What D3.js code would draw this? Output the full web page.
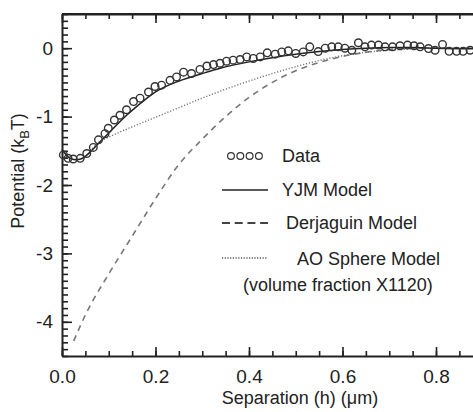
<!DOCTYPE html>
<html>
<head>
<meta charset="utf-8">
<script src="https://cdn.jsdelivr.net/npm/d3@7"></script>
<style>
  body { margin: 0; background: #fff; }
  svg { display: block; }
  text { font-family: "Liberation Sans", Arial, sans-serif; fill: #222; }
</style>
</head>
<body>
<svg></svg>
<script>
// separation (um) and potential (kT)
const dataH = [0.003, 0.013, 0.024, 0.039, 0.053, 0.067, 0.078, 0.092, 0.099, 0.112,
  0.124, 0.138, 0.153, 0.167, 0.185, 0.199, 0.213, 0.231, 0.245, 0.26,
  0.277, 0.295, 0.31, 0.324, 0.338, 0.352, 0.366, 0.381, 0.395, 0.409,
  0.424, 0.439, 0.456, 0.47, 0.484, 0.5, 0.516, 0.53, 0.548, 0.563,
  0.577, 0.591, 0.605, 0.62, 0.634, 0.648, 0.662, 0.677, 0.691, 0.707,
  0.723, 0.739, 0.753, 0.766, 0.784, 0.798, 0.814, 0.828, 0.844, 0.858, 0.873];
const dataU = [-1.56, -1.61, -1.62, -1.61, -1.54, -1.45, -1.34, -1.25, -1.17, -1.05,
  -0.98, -0.90, -0.78, -0.73, -0.64, -0.56, -0.54, -0.47, -0.42, -0.35,
  -0.37, -0.31, -0.26, -0.24, -0.22, -0.19, -0.175, -0.165, -0.127, -0.15,
  -0.127, -0.068, -0.087, -0.054, -0.039, -0.077, -0.054, 0.02, -0.05, 0.0,
  0.02, 0.02, 0.0, -0.03, 0.08, 0.02, 0.045, 0.045, 0.02, 0.02,
  0.035, 0.045, 0.035, 0.02, -0.005, -0.03, 0.055, -0.045, -0.045, -0.045, -0.03];

const yjmH = [0, 0.01, 0.02, 0.03, 0.04, 0.05, 0.06, 0.08, 0.1, 0.12, 0.14, 0.16, 0.18, 0.2,
  0.25, 0.3, 0.34, 0.4, 0.45, 0.5, 0.55, 0.6, 0.65, 0.7, 0.75, 0.8, 0.9];
const yjmU = [-1.48, -1.57, -1.62, -1.63, -1.62, -1.58, -1.52, -1.38, -1.24, -1.1, -0.97, -0.85, -0.74, -0.64,
  -0.48, -0.37, -0.29, -0.2, -0.14, -0.09, -0.05, -0.02, 0, 0.01, 0.01, 0, -0.01];

const derjH = [0.025, 0.05, 0.1, 0.15, 0.2, 0.25, 0.3, 0.35, 0.4, 0.45, 0.5, 0.55, 0.6, 0.65, 0.7, 0.75, 0.9];
const derjU = [-4.28, -3.9, -3.3, -2.75, -2.2, -1.7, -1.33, -1.0, -0.72, -0.5, -0.33, -0.21, -0.12, -0.06, -0.02, 0, 0];

const aoH = [0.06, 0.08, 0.1, 0.15, 0.2, 0.25, 0.3, 0.35, 0.4, 0.45, 0.5, 0.55, 0.6, 0.65, 0.7, 0.75, 0.8, 0.9];
const aoU = [-1.5, -1.37, -1.3, -1.15, -1.01, -0.87, -0.73, -0.6, -0.48, -0.37, -0.27, -0.18, -0.11, -0.06, -0.03, -0.01, 0, 0];

const xTicks = [0, 0.2, 0.4, 0.6, 0.8];
const xTickLabels = ['0.0', '0.2', '0.4', '0.6', '0.8'];
const yTicks = [0, -1, -2, -3, -4];
const yTickLabels = ['0', '-1', '-2', '-3', '-4'];

const legendItems = ['Data', 'YJM Model', 'Derjaguin Model', 'AO Sphere Model'];

const width = 473, height = 412;
const margin = {top: 14, left: 62, bottom: 56};

const svg = d3.select('svg')
  .attr('width', width)
  .attr('height', height);

const x = d3.scaleLinear().domain([0, 1]).range([margin.left, margin.left + 467.5]);
const y = d3.scaleLinear().domain([-4.5, 0.5]).range([height - margin.bottom, margin.top]);

const minorX = d3.range(0, 1.001, 0.05);
const minorY = d3.range(-4.5, 0.501, 0.1);

// minor ticks first
svg.append('g')
  .attr('transform', `translate(0,${y(-4.5)})`)
  .call(d3.axisBottom(x).tickValues(minorX).tickSize(-5).tickSizeOuter(0).tickFormat(''))
  .call(g => g.select('.domain').remove());
svg.append('g')
  .attr('transform', `translate(0,${y(0.5)})`)
  .call(d3.axisTop(x).tickValues(minorX).tickSize(-5).tickSizeOuter(0).tickFormat(''))
  .call(g => g.select('.domain').remove());
svg.append('g')
  .attr('transform', `translate(${x(0)},0)`)
  .call(d3.axisLeft(y).tickValues(minorY).tickSize(-6).tickSizeOuter(0).tickFormat(''))
  .call(g => g.select('.domain').remove());

// major ticks with labels
svg.append('g')
  .attr('transform', `translate(0,${y(-4.5)})`)
  .call(d3.axisBottom(x).tickValues(xTicks).tickSize(-9).tickSizeOuter(0).tickPadding(14)
    .tickFormat((d, i) => xTickLabels[i]));
svg.append('g')
  .attr('transform', `translate(0,${y(0.5)})`)
  .call(d3.axisTop(x).tickValues(xTicks).tickSize(-9).tickSizeOuter(0).tickFormat(''));
svg.append('g')
  .attr('transform', `translate(${x(0)},0)`)
  .call(d3.axisLeft(y).tickValues(yTicks).tickSize(-10).tickSizeOuter(0).tickPadding(9)
    .tickFormat((d, i) => yTickLabels[i]));

svg.selectAll('.tick line').attr('stroke', '#222').attr('stroke-width', 1.6);
svg.selectAll('.domain').attr('stroke', '#222').attr('stroke-width', 2);
svg.selectAll('.tick text')
  .attr('fill', '#222')
  .style('font-size', '19px')
  .style('font-family', '"Liberation Sans", Arial, sans-serif');

// frame top
svg.append('line')
  .attr('x1', x(0)).attr('x2', x(1))
  .attr('y1', y(0.5)).attr('y2', y(0.5))
  .attr('stroke', '#222').attr('stroke-width', 2);

const line = d3.line()
  .x(d => x(d[0]))
  .y(d => y(d[1]))
  .curve(d3.curveMonotoneX);

svg.append('path')
  .datum(derjH.map((h, i) => [h, derjU[i]]))
  .attr('d', line)
  .attr('fill', 'none')
  .attr('stroke', '#777')
  .attr('stroke-width', 1.6)
  .attr('stroke-dasharray', '6,5');

svg.append('path')
  .datum(aoH.map((h, i) => [h, aoU[i]]))
  .attr('d', line)
  .attr('fill', 'none')
  .attr('stroke', '#777')
  .attr('stroke-width', 1.4)
  .attr('stroke-dasharray', '1.2,1.8');

svg.append('path')
  .datum(yjmH.map((h, i) => [h, yjmU[i]]))
  .attr('d', line)
  .attr('fill', 'none')
  .attr('stroke', '#222')
  .attr('stroke-width', 1.5);

svg.append('g')
  .selectAll('circle')
  .data(dataH.map((h, i) => [h, dataU[i]]))
  .join('circle')
  .attr('cx', d => x(d[0]))
  .attr('cy', d => y(d[1]))
  .attr('r', 3.8)
  .attr('fill', 'none')
  .attr('stroke', '#333')
  .attr('stroke-width', 1.4);

// legend
const lg = svg.append('g');
lg.selectAll('circle')
  .data(d3.range(4))
  .join('circle')
  .attr('cx', d => 231 + d * 9.3)
  .attr('cy', 156)
  .attr('r', 3.4)
  .attr('fill', 'none')
  .attr('stroke', '#333')
  .attr('stroke-width', 1.2);

lg.append('line').attr('x1', 222).attr('x2', 268).attr('y1', 190).attr('y2', 190)
  .attr('stroke', '#222').attr('stroke-width', 1.6);
lg.append('line').attr('x1', 222).attr('x2', 268).attr('y1', 223).attr('y2', 223)
  .attr('stroke', '#444').attr('stroke-width', 1.8).attr('stroke-dasharray', '8,4.7');
lg.append('line').attr('x1', 222).attr('x2', 268).attr('y1', 258).attr('y2', 258)
  .attr('stroke', '#555').attr('stroke-width', 1.4).attr('stroke-dasharray', '1.2,1.5');

const legendPos = [[282, 162], [282, 196], [286, 229], [297, 265]];
lg.selectAll('text.item')
  .data(legendItems)
  .join('text')
  .attr('class', 'item')
  .attr('x', (d, i) => legendPos[i][0])
  .attr('y', (d, i) => legendPos[i][1])
  .style('font-size', '18px')
  .text(d => d);
lg.append('text')
  .attr('x', 243).attr('y', 291)
  .style('font-size', '18px')
  .text('(volume fraction X1120)');

// axis titles
svg.append('text')
  .attr('x', 300).attr('y', 404)
  .attr('text-anchor', 'middle')
  .style('font-size', '18px')
  .text('Separation (h)  (\u03bcm)');

const yt = svg.append('text')
  .attr('transform', 'translate(24,171) rotate(-90)')
  .attr('text-anchor', 'middle')
  .style('font-size', '18px');
yt.append('tspan').text('Potential (k');
yt.append('tspan').attr('dy', 5).style('font-size', '13px').text('B');
yt.append('tspan').attr('dy', -5).text('T)');
</script>
</body>
</html>
